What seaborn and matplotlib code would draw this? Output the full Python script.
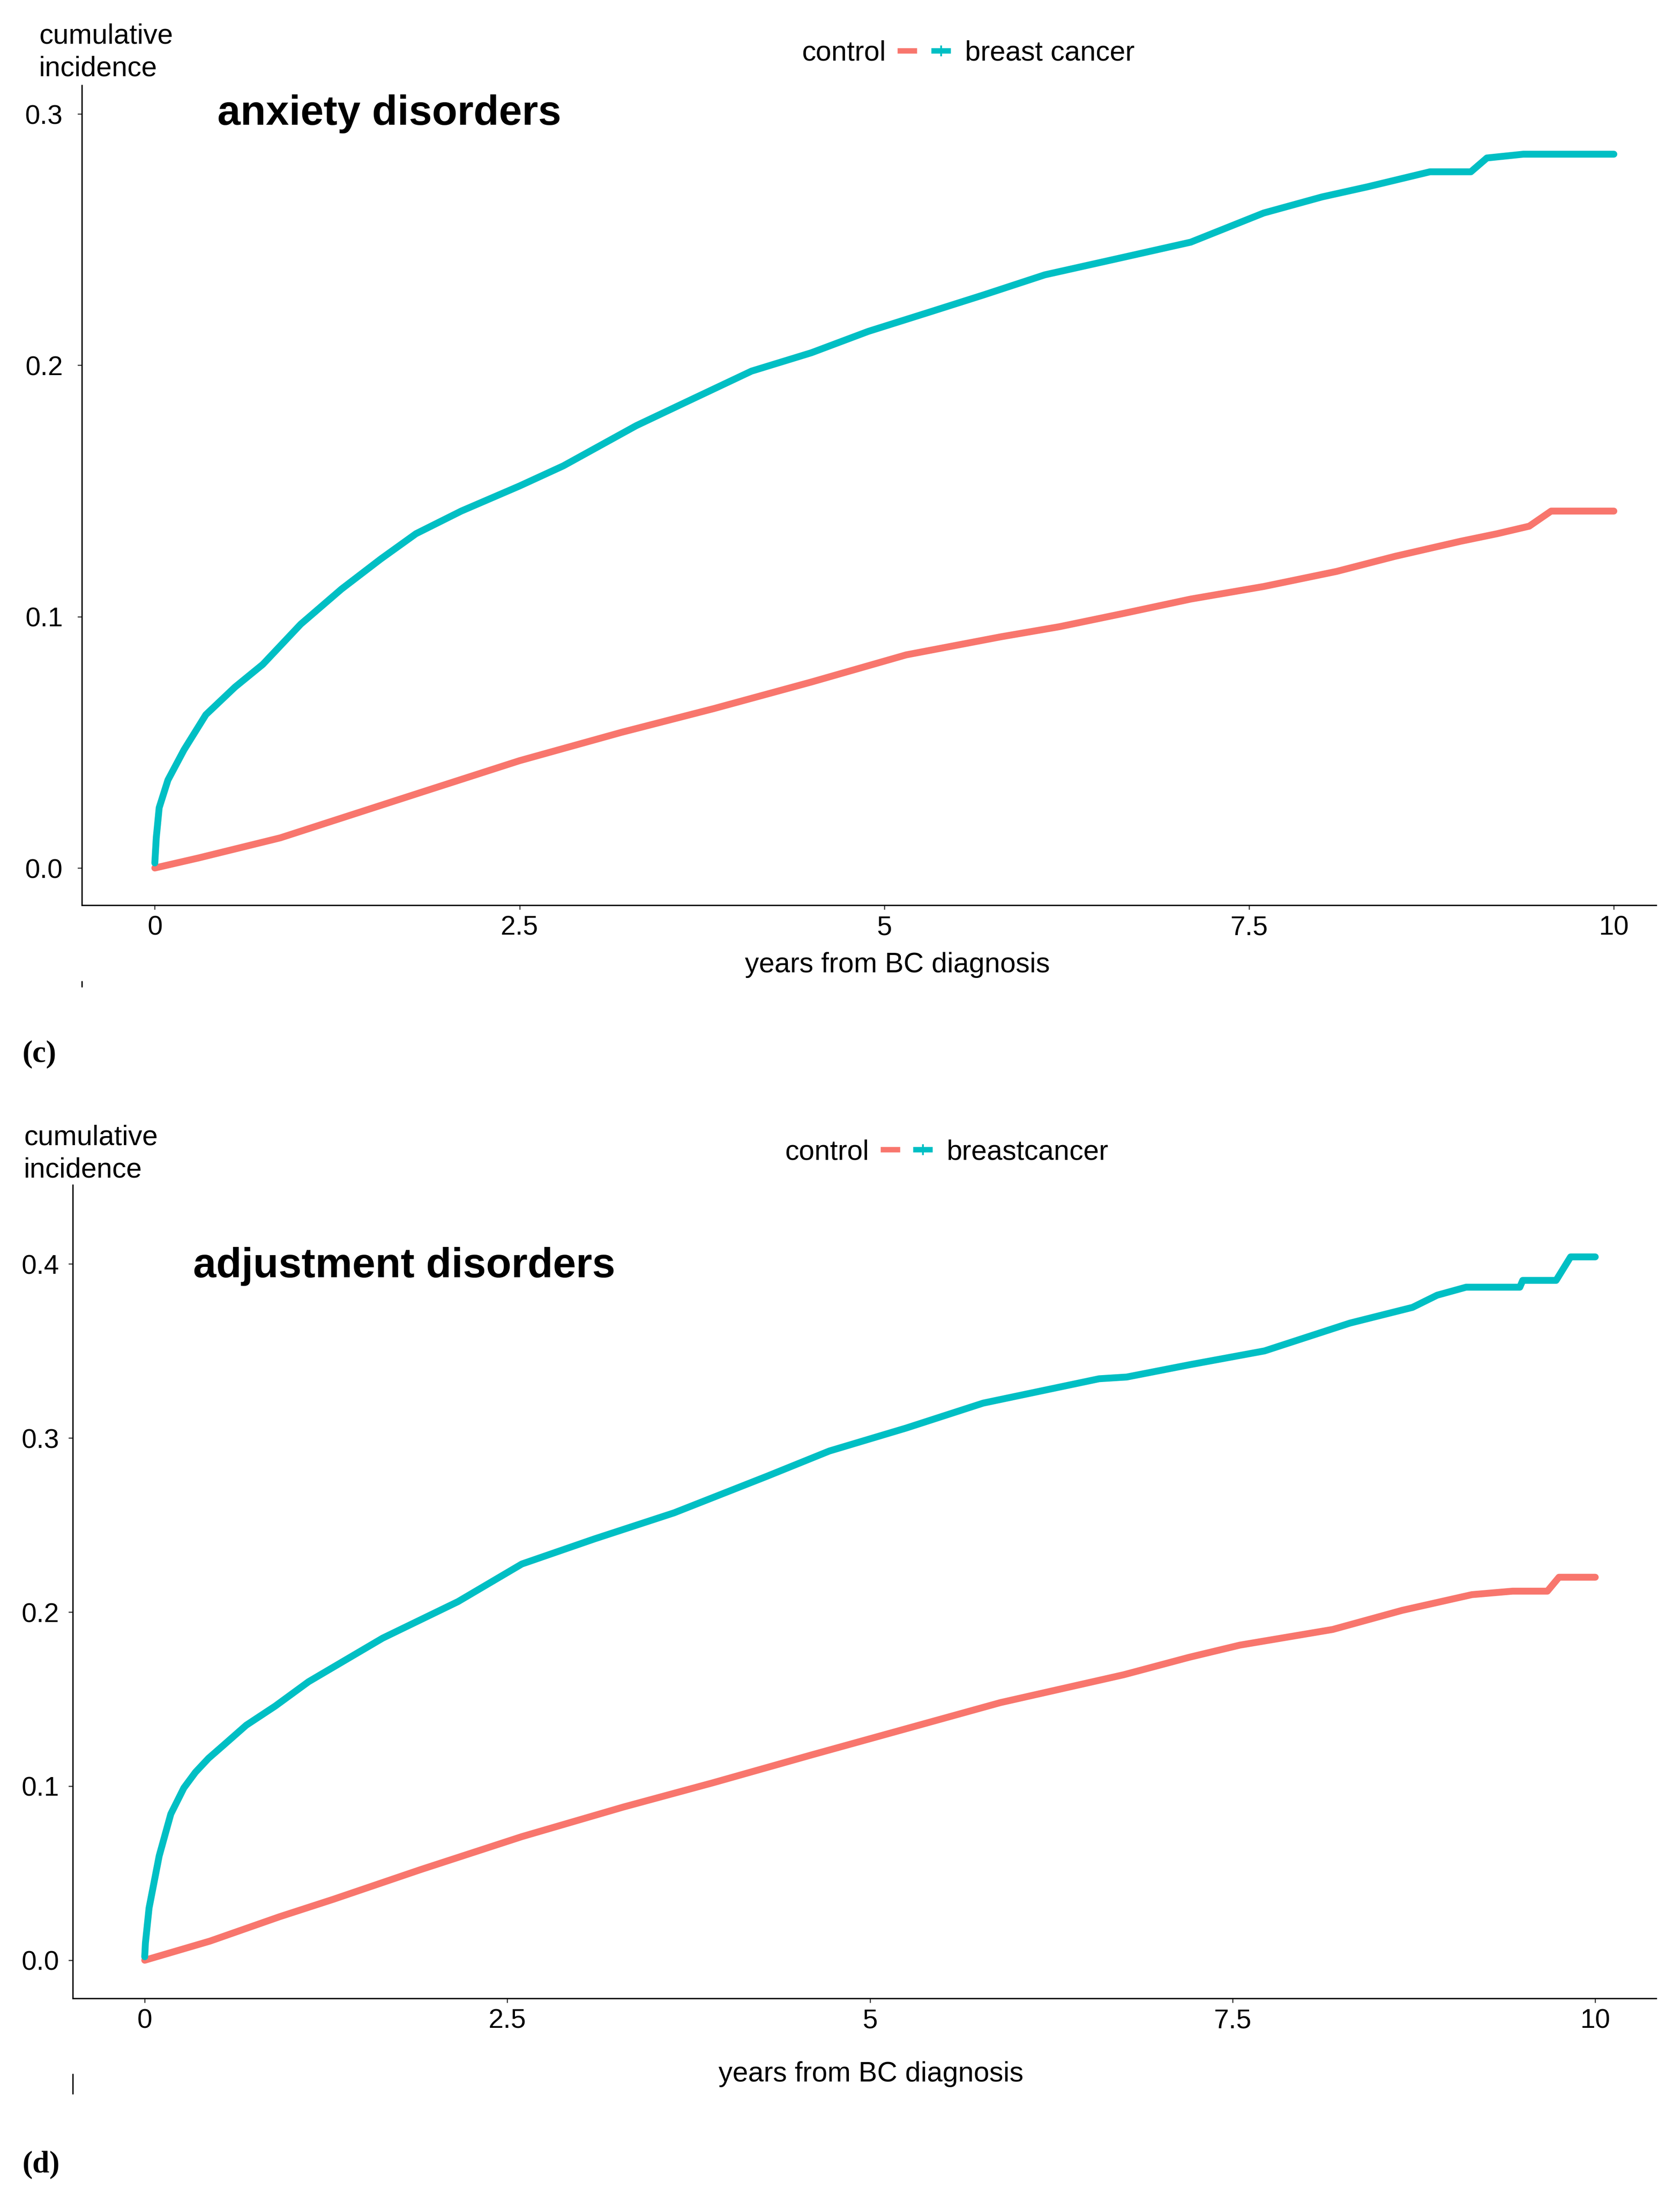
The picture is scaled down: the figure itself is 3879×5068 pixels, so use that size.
import pandas as pd
import matplotlib
matplotlib.use("Agg")
import matplotlib.pyplot as plt
import seaborn as sns
from matplotlib.lines import Line2D

# ===========================
# Data
# ===========================

# (c) anxiety disorders
anx_ctrl_t = [0, 0.3, 0.86, 1.34, 1.82, 2.5, 3.2, 3.83, 4.5, 5.15, 5.8, 6.2, 6.64,
              7.1, 7.6, 8.1, 8.5, 8.95, 9.2, 9.42, 9.57, 10]
anx_ctrl_v = [0, 0.004, 0.012, 0.021, 0.030, 0.0427, 0.054, 0.0634, 0.074, 0.0848,
              0.092, 0.096, 0.1013, 0.107, 0.112, 0.118, 0.124, 0.130, 0.133, 0.136,
              0.142, 0.142]

anx_bc_t = [0, 0.01, 0.03, 0.09, 0.2, 0.35, 0.55, 0.74, 0.87, 1.0, 1.28, 1.55, 1.79,
            2.1, 2.5, 2.8, 3.3, 3.7, 4.09, 4.5, 4.89, 5.3, 5.68, 6.1, 6.64, 7.1, 7.6,
            8.0, 8.31, 8.74, 9.02, 9.13, 9.38, 10]
anx_bc_v = [0.002, 0.012, 0.024, 0.035, 0.047, 0.061, 0.072, 0.081, 0.089, 0.097,
            0.111, 0.123, 0.133, 0.142, 0.152, 0.16, 0.176, 0.187, 0.1977, 0.205,
            0.2135, 0.221, 0.228, 0.236, 0.243, 0.249, 0.2606, 0.267, 0.271, 0.277,
            0.277, 0.2825, 0.284, 0.284]

# (d) adjustment disorders
adj_ctrl_t = [0, 0.45, 0.93, 1.3, 1.9, 2.6, 3.3, 3.92, 4.6, 5.25, 5.9, 6.75, 7.2,
              7.55, 8.19, 8.67, 9.15, 9.43, 9.67, 9.75, 10]
adj_ctrl_v = [0, 0.011, 0.025, 0.035, 0.052, 0.071, 0.088, 0.102, 0.118, 0.133,
              0.148, 0.164, 0.174, 0.181, 0.19, 0.201, 0.21, 0.212, 0.212, 0.22, 0.22]

adj_bc_t = [0, 0.005, 0.03, 0.1, 0.18, 0.27, 0.35, 0.44, 0.55, 0.7, 0.9, 1.13, 1.64,
            2.16, 2.6, 3.1, 3.65, 4.29, 4.72, 5.25, 5.78, 6.58, 6.77, 7.2, 7.72, 8.31,
            8.74, 8.91, 9.11, 9.48, 9.5, 9.73, 9.83, 10]
adj_bc_v = [0.002, 0.01, 0.03, 0.06, 0.084, 0.099, 0.108, 0.116, 0.124, 0.135, 0.146,
            0.16, 0.185, 0.206, 0.2276, 0.242, 0.257, 0.278, 0.2925, 0.3057, 0.32,
            0.334, 0.335, 0.342, 0.35, 0.366, 0.375, 0.382, 0.3866, 0.3866, 0.3905,
            0.3905, 0.404, 0.404]

x_ticks = [0, 2.5, 5, 7.5, 10]
x_tick_labels = ["0", "2.5", "5", "7.5", "10"]

RED = "#F8766D"
CYAN = "#00BFC4"

# ===========================
# Figure
# ===========================

sns.set_style("ticks")
plt.rcParams["font.family"] = ["Liberation Sans", "DejaVu Sans"]
plt.rcParams["text.color"] = "black"
plt.rcParams["axes.labelcolor"] = "black"

W, H = 3879, 5068
fig = plt.figure(figsize=(W / 300, H / 300), dpi=300)


def fx(px):
    return px / W


def fy(py):
    return 1 - py / H


panels = [
    dict(rect=[fx(189), fy(2090), fx(3824) - fx(189), (2090 - 197) / H],
         t_ctrl=anx_ctrl_t, v_ctrl=anx_ctrl_v, t_bc=anx_bc_t, v_bc=anx_bc_v,
         bc_name="breast cancer", title="anxiety disorders",
         title_xy=(0.43, 0.300), xlim=(-0.5, 10.29), ylim=(-0.0148, 0.3114),
         yticks=[0, 0.1, 0.2, 0.3], ypad=8,
         ylab_xy=(fx(90), fy(121)), xlab_xy=(fx(2072), fy(2228)),
         leg_y=fy(123), leg_red_right=fx(2117), leg_cyan_left=fx(2150),
         tag="(c)", tag_xy=(fx(52), fy(2434)), stub=(189, 2266, 2278)),
    dict(rect=[fx(168), fy(4614), fx(3824) - fx(168), (4614 - 2736) / H],
         t_ctrl=adj_ctrl_t, v_ctrl=adj_ctrl_v, t_bc=adj_bc_t, v_bc=adj_bc_v,
         bc_name="breastcancer", title="adjustment disorders",
         title_xy=(0.334, 0.3985), xlim=(-0.496, 10.42), ylim=(-0.0219, 0.4453),
         yticks=[0, 0.1, 0.2, 0.3, 0.4], ypad=5,
         ylab_xy=(fx(55), fy(2664)), xlab_xy=(fx(2011), fy(4789)),
         leg_y=fy(2660), leg_red_right=fx(2078), leg_cyan_left=fx(2108),
         tag="(d)", tag_xy=(fx(52), fy(4998)), stub=(168, 4789, 4834)),
]

for p in panels:
    ax = fig.add_axes(p["rect"])

    df = pd.concat([
        pd.DataFrame({"years": p["t_ctrl"], "ci": p["v_ctrl"], "group": "control"}),
        pd.DataFrame({"years": p["t_bc"], "ci": p["v_bc"], "group": p["bc_name"]}),
    ])
    sns.lineplot(data=df, x="years", y="ci", hue="group",
                 hue_order=["control", p["bc_name"]],
                 palette={"control": RED, p["bc_name"]: CYAN},
                 estimator=None, sort=False, lw=3.8, legend=False, ax=ax)

    ax.set_xlim(*p["xlim"])
    ax.set_ylim(*p["ylim"])
    ax.set_xticks(x_ticks)
    ax.set_xticklabels(x_tick_labels)
    ax.set_yticks(p["yticks"])
    ax.set_yticklabels([f"{v:.1f}" for v in p["yticks"]])

    sns.despine(ax=ax)
    for side in ["left", "bottom"]:
        ax.spines[side].set_color("black")
        ax.spines[side].set_linewidth(0.75)
    ax.tick_params(axis="both", length=2.5, width=0.6, color="#333333",
                   labelsize=15, labelcolor="black")
    ax.tick_params(axis="x", pad=3)
    ax.tick_params(axis="y", pad=p["ypad"])

    ax.set_ylabel("cumulative\nincidence", rotation=0, ha="left", va="center",
                  fontsize=15.5, linespacing=1.3)
    ax.yaxis.set_label_coords(*p["ylab_xy"], transform=fig.transFigure)
    ax.set_xlabel("years from BC diagnosis", fontsize=15.5, va="center")
    ax.xaxis.set_label_coords(*p["xlab_xy"], transform=fig.transFigure)

    ax.text(*p["title_xy"], p["title"], fontsize=23, fontweight="bold",
            color="black", ha="left", va="center")

    # legend: label - key   key - label
    h_ctrl = Line2D([], [], color=RED, lw=3, solid_capstyle="butt")
    h_bc = Line2D([], [], color=CYAN, lw=3, solid_capstyle="butt", marker="+",
                  markersize=6, markeredgewidth=1)
    leg1 = ax.legend([h_ctrl], ["control"], markerfirst=False, frameon=False,
                     loc="center right", bbox_to_anchor=(p["leg_red_right"], p["leg_y"]),
                     bbox_transform=fig.transFigure, fontsize=15.5, borderpad=0,
                     borderaxespad=0, handlelength=0.7, handletextpad=0.4)
    ax.add_artist(leg1)
    ax.legend([h_bc], [p["bc_name"]], frameon=False, loc="center left",
              bbox_to_anchor=(p["leg_cyan_left"], p["leg_y"]),
              bbox_transform=fig.transFigure, fontsize=15.5, borderpad=0,
              borderaxespad=0, handlelength=0.7, handletextpad=0.5)

    fig.text(*p["tag_xy"], p["tag"], family=["Liberation Serif", "DejaVu Serif"],
             fontweight="bold", fontsize=17, ha="left", va="center")

    sx, sy0, sy1 = p["stub"]
    fig.add_artist(Line2D([fx(sx), fx(sx)], [fy(sy0), fy(sy1)], color="black",
                          lw=0.75, transform=fig.transFigure))

fig.savefig("out.png", dpi=300)
